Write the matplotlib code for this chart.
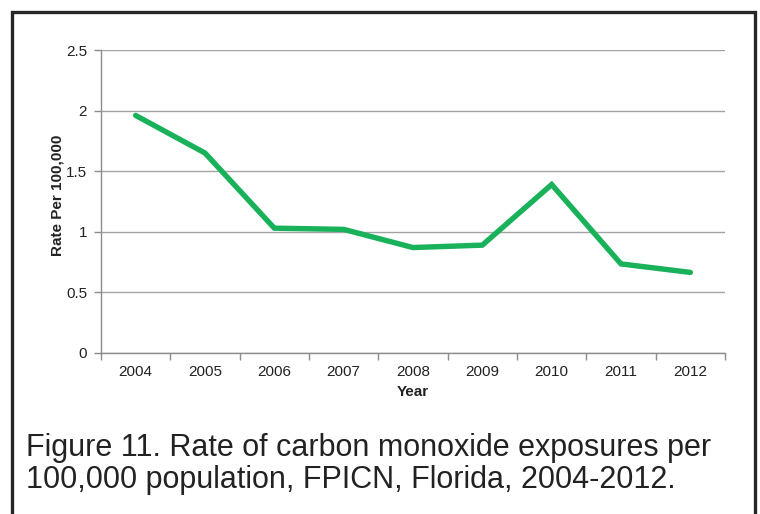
import matplotlib
matplotlib.use("Agg")
import matplotlib.pyplot as plt
from matplotlib.patches import Rectangle
from matplotlib.ticker import FixedLocator, NullFormatter

plt.rcParams['font.family'] = ['Liberation Sans', 'DejaVu Sans']

years = ['2004', '2005', '2006', '2007', '2008', '2009', '2010', '2011', '2012']
rates = [1.96, 1.65, 1.03, 1.02, 0.87, 0.89, 1.39, 0.735, 0.665]
yticks = [0, 0.5, 1, 1.5, 2, 2.5]
ytick_labels = ['0', '0.5', '1', '1.5', '2', '2.5']
caption = ['Figure 11. Rate of carbon monoxide exposures per',
           '100,000 population, FPICN, Florida, 2004-2012.']

W, H = 760, 514
fig = plt.figure(figsize=(W / 100, H / 100), dpi=100)

# dark frame around the figure, open at the bottom edge
fig.add_artist(Rectangle((11.5 / W, -0.05), (755 - 11.5) / W, 1.05 - 11.5 / H,
                         transform=fig.transFigure, fill=False,
                         edgecolor='#262626', linewidth=2.4, clip_on=False))

ax = fig.add_axes([101 / W, 1 - 353 / H, (725 - 101) / W, (353 - 50) / H])

x = list(range(len(years)))
ax.plot(x, rates, color='#19b25a', linewidth=3.9, solid_capstyle='round',
        solid_joinstyle='miter')

ax.set_xlim(-0.5, len(years) - 0.5)
ax.set_ylim(0, 2.5)
ax.set_yticks(yticks)
ax.set_yticklabels(ytick_labels)
ax.set_xticks(x)
ax.set_xticklabels(years)
ax.xaxis.set_minor_locator(FixedLocator([i - 0.5 for i in range(len(years) + 1)]))
ax.xaxis.set_minor_formatter(NullFormatter())

ax.tick_params(axis='x', which='major', length=0, labelsize=11, pad=9, colors='#222222')
ax.tick_params(axis='x', which='minor', length=5, width=1, color='#8c8c8c', direction='out')
ax.tick_params(axis='y', length=5, width=1, color='#8c8c8c', labelsize=11, pad=5,
               labelcolor='#222222')

ax.grid(axis='y', color='#a3a3a3', linewidth=1)
ax.set_axisbelow(True)
for side in ['top', 'right']:
    ax.spines[side].set_visible(False)
for side in ['left', 'bottom']:
    ax.spines[side].set_color('#8c8c8c')
    ax.spines[side].set_linewidth(1)

ax.set_xlabel('Year', fontsize=11, fontweight='bold', labelpad=4, color='#222222')
ax.set_ylabel('Rate Per 100,000', fontsize=11, fontweight='bold', color='#222222')
ax.yaxis.set_label_coords(-(101 - 64) / 624, 0.52)

# two-line caption below the chart
fig.text(26 / W, 1 - 456 / H, caption[0], fontsize=22, color='#222222',
         va='baseline', ha='left')
fig.text(26 / W, 1 - 488 / H, caption[1], fontsize=22, color='#222222',
         va='baseline', ha='left')

fig.savefig('out.png', dpi=100)
